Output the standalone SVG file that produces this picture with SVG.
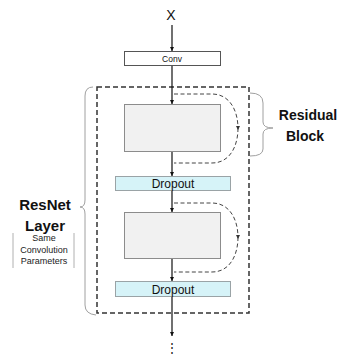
<svg xmlns="http://www.w3.org/2000/svg" width="338" height="356" viewBox="0 0 338 356">
<style>
text{font-family:"Liberation Sans",Arial,sans-serif;fill:#111}
.big{font-weight:bold;font-size:15px;text-anchor:middle}
.sm{font-size:9px;text-anchor:middle;fill:#222}
.dp{font-size:12px;text-anchor:middle}
.gray{fill:#f1f1f1;stroke:#8c8c8c;stroke-width:1}
.drop{fill:#d6f3f8;stroke:#9aa3a6;stroke-width:1}
.arr{stroke:#111;stroke-width:1.2;fill:none;marker-end:url(#ah)}
.skip{stroke:#444;stroke-width:1;fill:none;stroke-dasharray:4 2.5}
.brace{stroke:#a0a0a0;stroke-width:1;fill:none}
</style>
<defs>
<marker id="ah" viewBox="0 0 6 6" refX="6" refY="3" markerWidth="4" markerHeight="4" orient="auto" markerUnits="userSpaceOnUse"><path d="M0,0 L6,3 L0,6 z" fill="#111"/></marker>
<marker id="sk" viewBox="0 0 6 6" refX="3" refY="3" markerWidth="4" markerHeight="4" orient="auto" markerUnits="userSpaceOnUse"><path d="M0,0 L6,3 L0,6 z" fill="#333"/></marker>
</defs>
<g id="input"><text x="171" y="20" style="font-size:14px;text-anchor:middle">X</text></g>
<g id="conv"><rect x="124.5" y="51.5" width="96" height="14" fill="#fff" stroke="#555" stroke-width="1"/><text x="172" y="62" style="font-size:8.5px;text-anchor:middle">Conv</text></g>
<g id="resnet-layer"><rect x="97" y="87" width="152" height="226" fill="none" stroke="#333" stroke-width="1.5" stroke-dasharray="5 3"/></g>
<g id="block1"><rect class="gray" x="124.5" y="104.5" width="96" height="47"/></g>
<g id="dropout1"><rect class="drop" x="115.5" y="176.5" width="115" height="14"/><text class="dp" x="173" y="188">Dropout</text></g>
<g id="block2"><rect class="gray" x="124.5" y="212.5" width="96" height="46"/></g>
<g id="dropout2"><rect class="drop" x="115.5" y="281.5" width="115" height="15"/><text class="dp" x="173" y="293.5">Dropout</text></g>
<g id="more"><text x="172" y="352" style="font-size:12px;text-anchor:middle">⋮</text></g>
<g id="residual-label"><path class="brace" d="M250,93 Q263,93 263,103 V122 Q263,128 273,128 Q263,128 263,134 V149 Q263,156 250,156"/><text class="big" x="308" y="120" style="font-size:14px">Residual</text><text class="big" x="305" y="141" style="font-size:14px">Block</text></g>
<g id="layer-label"><path class="brace" d="M93,87 Q85,87 85,96 V200 Q85,207 80,207 Q85,207 85,214 V305 Q85,314 96,315"/><text class="big" x="45" y="210">ResNet</text><text class="big" x="45" y="231">Layer</text></g>
<g id="params-label"><line x1="13" y1="233" x2="13" y2="268" stroke="#b0b0b0" stroke-width="1"/><line x1="74" y1="233" x2="74" y2="268" stroke="#b0b0b0" stroke-width="1"/><text class="sm" x="44" y="241">Same</text><text class="sm" x="44" y="253">Convolution</text><text class="sm" x="44" y="264">Parameters</text></g>
<g id="connectors">
<line class="arr" x1="172" y1="25" x2="172" y2="51"/>
<line class="arr" x1="172" y1="66" x2="172" y2="104"/>
<line class="arr" x1="172" y1="152" x2="172" y2="176"/>
<line class="arr" x1="172" y1="191" x2="172" y2="212"/>
<line class="arr" x1="172" y1="259" x2="172" y2="281"/>
<line class="arr" x1="172" y1="297" x2="172" y2="336"/>
<path class="skip" d="M174,94 H212 C230,94 238,111 238,128.5"/>
<path class="skip" d="M238,128 C238,146 230,163 212,163 H174" marker-start="url(#sk)"/>
<path class="skip" d="M174,203 H212 C230,203 238,220 238,237.5"/>
<path class="skip" d="M238,237 C238,255 230,272 212,272 H174" marker-start="url(#sk)"/>
</g>
</svg>
